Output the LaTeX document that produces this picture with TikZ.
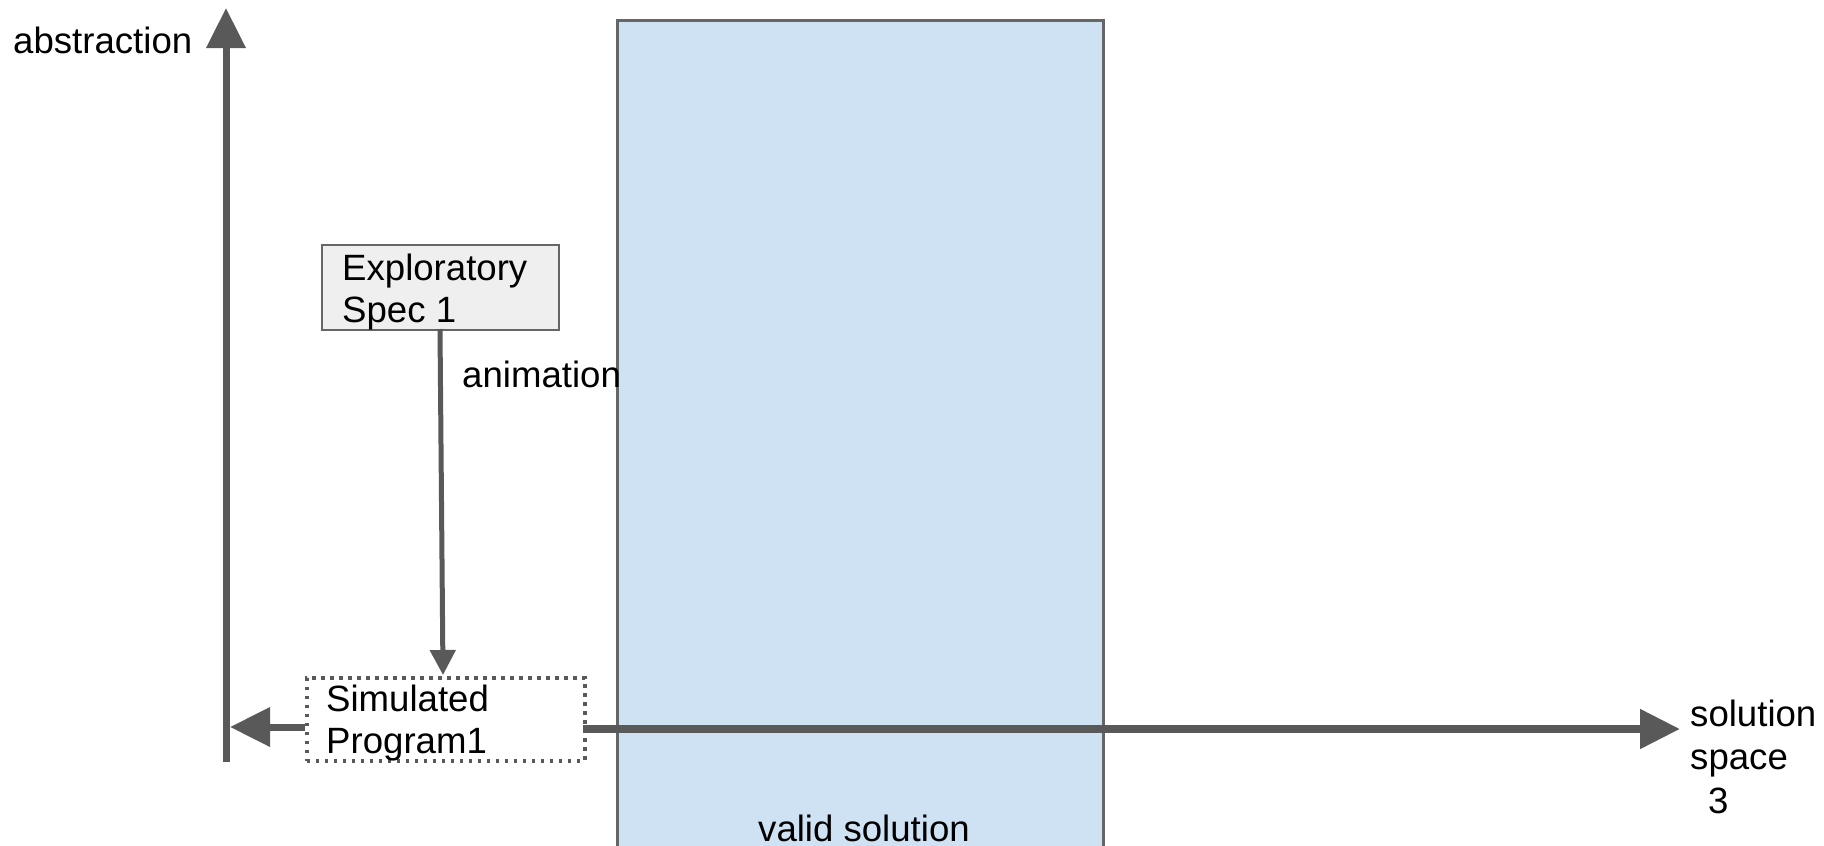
\documentclass[tikz,border=0pt]{standalone}
\usepackage{fontspec}
\setmainfont{Liberation Sans}
\usetikzlibrary{arrows.meta}
\definecolor{axisgray}{HTML}{595959}
\definecolor{boxgray}{HTML}{666666}
\definecolor{validblue}{HTML}{CFE2F3}
\definecolor{specfill}{HTML}{EFEFEF}
\tikzset{
  lbl/.style={font=\fontsize{36.6}{43.5}\selectfont, inner sep=0pt, align=left, text=black},
  boxlbl/.style={lbl, font=\fontsize{36.6}{42}\selectfont},
  axis/.style={draw=axisgray, line width=7pt, -{Triangle[length=40pt,width=38pt]}},
  flow/.style={draw=axisgray, line width=5pt, -{Triangle[length=25pt,width=25pt]}},
  specbox/.style={draw=boxgray, line width=2pt, fill=specfill, inner sep=0pt},
  simbox/.style={draw=axisgray, line width=3.5pt, dash pattern=on 3.5pt off 5.5pt, inner sep=0pt},
  validbox/.style={draw=boxgray, line width=2.5pt, fill=validblue, inner sep=0pt},
}
\begin{document}
\begin{tikzpicture}[x=1pt, y=-1pt]
\useasboundingbox (0,0) rectangle (1824,846);

% region of valid solutions
\node[validbox, minimum width=486pt, minimum height=828pt, anchor=north west] (valid) at (616,19) {};
\node[lbl, anchor=base] (validtxt) at (864,841) {valid solution};

% axes
\coordinate (ybot) at (226,762);
\coordinate (ytop) at (226,8);
\draw[axis] (ybot) -- (ytop);
\node[lbl, anchor=base west] (ylabel) at (13,53) {abstraction};

% exploratory specification (anchor is the baseline of the last line)
\node[specbox, minimum width=237pt, minimum height=85pt, anchor=north west] (spec) at (321,244) {};
\node[boxlbl, anchor=base west] (spectxt) at (342,322) {Exploratory\\Spec 1};

% simulated program
\node[simbox, minimum width=278pt, minimum height=83pt, anchor=north west] (sim) at (305,676) {};
\node[boxlbl, anchor=base west] (simtxt) at (326,753) {Simulated\\Program1};

% animation step
\coordinate (specout) at (440,329);
\coordinate (simin) at (443,675);
\draw[flow] (specout) -- (simin);
\node[lbl, anchor=base west] (animtxt) at (462,387) {animation};

% program towards the abstraction axis
\coordinate (simleft) at (305,727);
\coordinate (yhit) at (230,727);
\draw[axis] (simleft) -- (yhit);

% solution space axis
\coordinate (simright) at (583,729);
\coordinate (xtip) at (1680,729);
\draw[axis, line width=8pt] (simright) -- (xtip);
\node[lbl, anchor=base west] (xlabel) at (1690,813) {solution\\space\\\hspace*{18pt}3};
\end{tikzpicture}
\end{document}
